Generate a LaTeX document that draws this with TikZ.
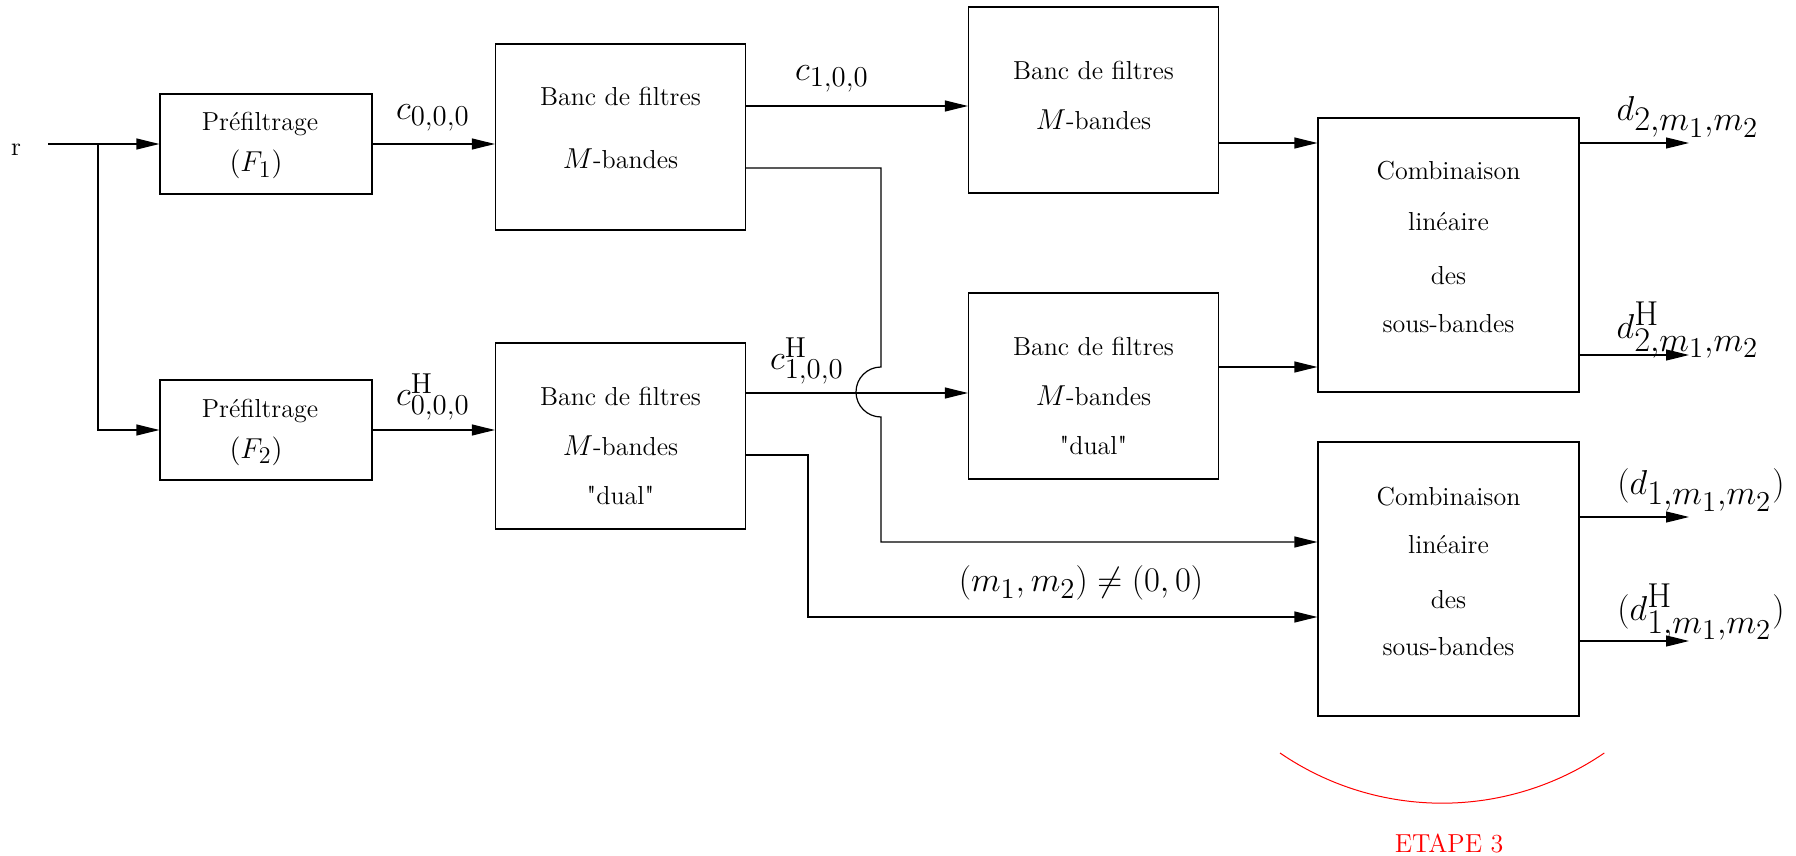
\documentclass[tikz,border=0pt]{standalone}
\usetikzlibrary{arrows.meta}
\DeclareMathSizes{15}{15}{13}{12}
\DeclareMathSizes{16}{16}{14}{12}
\DeclareMathSizes{17}{17}{15}{13}
\DeclareMathSizes{18}{18}{16}{14}
\font\qf="[lmroman10-regular.otf]" at 13pt
\newcommand{\sq}{{\qf"}}
\begin{document}
\begin{tikzpicture}[x=0.5pt,y=-0.5pt,
  box/.style={draw, line width=0.6pt, inner sep=0pt, minimum width=125pt, minimum height=93pt},
  pbox/.style={box, minimum width=106pt, minimum height=50pt},
  cbox/.style={box, minimum width=130.5pt, minimum height=137pt},
  txt/.style={anchor=base, inner sep=0pt, font=\fontsize{13}{15}\selectfont},
  lab/.style={inner sep=0pt, font=\fontsize{17}{20}\selectfont},
  labd/.style={inner sep=0pt, font=\fontsize{18}{21}\selectfont},
  labm/.style={inner sep=0pt, font=\fontsize{16}{19}\selectfont},
  arr/.style={line width=0.6pt, -{Triangle[length=11.5pt,width=5.5pt]}},
  wire/.style={line width=0.6pt}]
\useasboundingbox (0,0) rectangle (1796,856);

% boxes
\node[pbox] (f1) at (266,144) {};
\node[pbox] (f2) at (266,430) {};
\node[box] (b1) at (620.5,137) {};
\node[box] (b2) at (620.5,436) {};
\node[box] (b3) at (1093.5,100) {};
\node[box] (b4) at (1093.5,386) {};
\node[cbox] (c1) at (1448.5,255) {};
\node[cbox] (c2) at (1448.5,579) {};

% box texts
\node[txt] (f1a) at (260,131) {Préfiltrage};
\node[txt] (f1b) at (256,172) {\fontsize{15}{18}\selectfont$(F_1)$};
\node[txt] (f2a) at (260,417) {Préfiltrage};
\node[txt] (f2b) at (256,458) {\fontsize{15}{18}\selectfont$(F_2)$};

\node[txt] (b1a) at (620.5,106) {Banc de filtres};
\node[txt] (b1b) at (620.5,169) {{\fontsize{15}{18}\selectfont$M$}-bandes};

\node[txt] (b2a) at (620.5,405) {Banc de filtres};
\node[txt] (b2b) at (620.5,455) {{\fontsize{15}{18}\selectfont$M$}-bandes};
\node[txt] (b2c) at (620.5,504) {\sq dual\sq};

\node[txt] (b3a) at (1093.5,80) {Banc de filtres};
\node[txt] (b3b) at (1093.5,130) {{\fontsize{15}{18}\selectfont$M$}-bandes};

\node[txt] (b4a) at (1093.5,355) {Banc de filtres};
\node[txt] (b4b) at (1093.5,405) {{\fontsize{15}{18}\selectfont$M$}-bandes};
\node[txt] (b4c) at (1093.5,454) {\sq dual\sq};

\node[txt] (c1a) at (1448.5,180) {Combinaison};
\node[txt] (c1b) at (1448.5,230) {linéaire};
\node[txt] (c1c) at (1448.5,285) {des};
\node[txt] (c1d) at (1448.5,332) {sous-bandes};

\node[txt] (c2a) at (1448.5,505) {Combinaison};
\node[txt] (c2b) at (1448.5,553) {linéaire};
\node[txt] (c2c) at (1448.5,608) {des};
\node[txt] (c2d) at (1448.5,655) {sous-bandes};

% input
\node[txt, anchor=center] (r) at (16,150) {r};
\coordinate (rin) at (48,144);
\coordinate (br) at (98,144);
\draw[arr] (rin) -- (f1.west);
\draw[arr] (br) |- (f2.west);

% first stage
\draw[arr] (f1.east) -- (b1.west |- f1.east);
\draw[arr] (f2.east) -- (b2.west |- f2.east);

% second stage
\draw[arr] (b1.east |- 0,106) -- (b3.west |- 0,106);
\coordinate (j1) at (881,168);
\coordinate (jt) at (881,367);
\coordinate (j2) at (881,542);
\draw[arr] (b1.east |- j1) -- (j1) -- (jt) arc[start angle=270, end angle=90, radius=25] -- (j2) -- (c2.west |- j2);
\draw[arr] (b2.east |- 0,393) -- (b4.west |- 0,393);
\coordinate (k1) at (808,617);
\draw[arr] (b2.east |- 0,455) -| (k1) -- (c2.west |- k1);

% third stage
\draw[arr] (b3.east |- 0,143) -- (c1.west |- 0,143);
\draw[arr] (b4.east |- 0,367) -- (c1.west |- 0,367);

% outputs
\coordinate (o1) at (1689,143);
\coordinate (o2) at (1689,355);
\coordinate (o3) at (1689,517);
\coordinate (o4) at (1689,641);
\draw[arr] (c1.east |- o1) -- (o1);
\draw[arr] (c1.east |- o2) -- (o2);
\draw[arr] (c2.east |- o3) -- (o3);
\draw[arr] (c2.east |- o4) -- (o4);

% labels
\node[lab] (lc000) at (433,118) {$c_{0,0,0}$};
\node[lab] (lch000) at (433,397) {$c^{\mathrm{H}}_{0,0,0}$};
\node[lab] (lc100) at (832,79) {$c_{1,0,0}$};
\node[lab] (lch100) at (807,361) {$c^{\mathrm{H}}_{1,0,0}$};
\node[labm] (lm) at (1081,583) {$(m_1,m_2)\neq(0,0)$};
\node[labd] (ld2) at (1688,117) {$d_{2,m_1,m_2}$};
\node[labd] (ldh2) at (1688,330) {$d^{\mathrm{H}}_{2,m_1,m_2}$};
\node[labd] (ld1) at (1701,490) {$(d_{1,m_1,m_2})$};
\node[labd] (ldh1) at (1701,612) {$(d^{\mathrm{H}}_{1,m_1,m_2})$};

% etape
\draw[red, line width=0.5pt] (1280,753) arc[start angle=124.4, end angle=55.6, radius=287];
\node[txt, text=red] (et) at (1449,852) {ETAPE 3};
\end{tikzpicture}
\end{document}
